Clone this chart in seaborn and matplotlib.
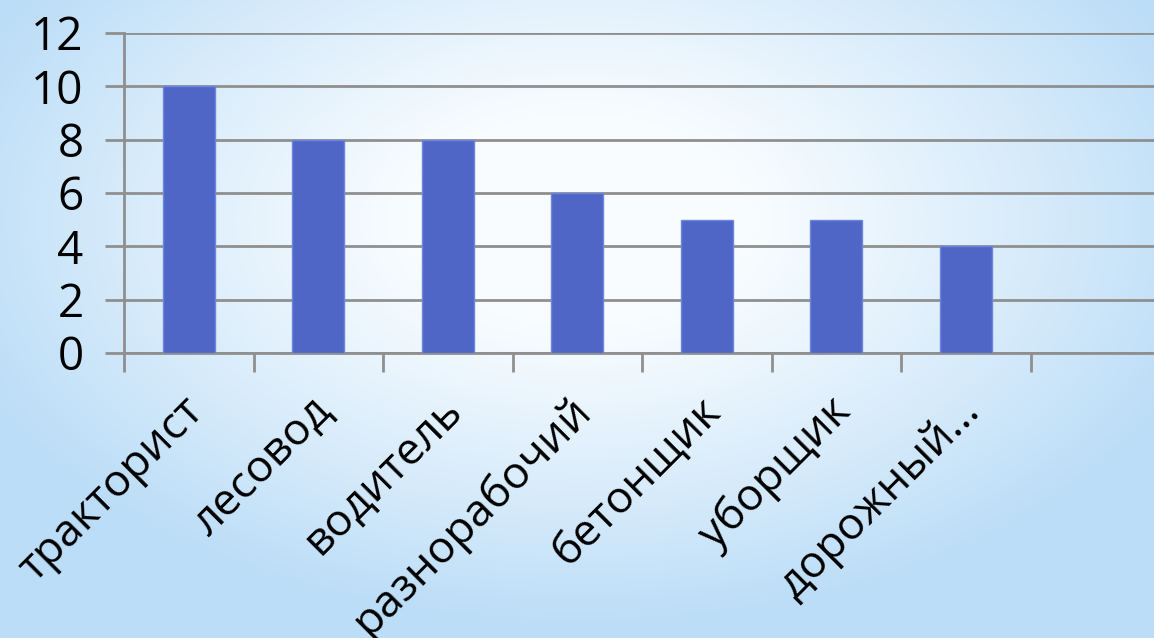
import numpy as np
import pandas as pd
import matplotlib
matplotlib.use("Agg")
import matplotlib.pyplot as plt
import matplotlib.transforms as mtransforms
import seaborn as sns
from matplotlib.ticker import FixedLocator

categories = ["тракторист", "лесовод", "водитель", "разнорабочий",
              "бетонщик", "уборщик", "дорожный..."]
values = [10, 8, 8, 6, 5, 5, 4]
yticks = [0, 2, 4, 6, 8, 10, 12]

sns.set_theme(style="white")
plt.rcParams['font.family'] = ['Open Sans', 'DejaVu Sans']

W, H = 1154, 638
fig = plt.figure(figsize=(W / 100, H / 100), dpi=100)

# background gradient
bg = fig.add_axes([0, 0, 1, 1], zorder=0)
yy, xx = np.mgrid[0:H, 0:W]
d = np.sqrt(((xx - 580) / 650.0) ** 2 + ((yy - 220) / 400.0) ** 2)
t = np.clip((d - 0.25) / 0.75, 0, 1) ** 1.1
white = np.array([0.975, 0.99, 1.0])
blue = np.array([0.74, 0.87, 0.97])
img = white[None, None, :] * (1 - t[..., None]) + blue[None, None, :] * t[..., None]
bg.imshow(img, extent=[0, 1, 0, 1], aspect='auto', origin='upper')
bg.axis('off')

ax = fig.add_axes([124 / W, 1 - 353 / H, (1160 - 124) / W, (353 - 33) / H], zorder=1)
ax.patch.set_alpha(0)

df = pd.DataFrame({"job": categories, "count": values})
sns.barplot(data=df, x="job", y="count", color="#4f66c6", saturation=1,
            width=0.4, ax=ax, zorder=3, edgecolor="#6d85dc", linewidth=1)

ax.set_xlim(-0.5, 7.5)
ax.set_ylim(0, 12)
ax.set_yticks(yticks)
ax.set_yticklabels([str(v) for v in yticks], fontsize=33, color='black')
ax.yaxis.grid(True, color='#8f8f8f', linewidth=2)
ax.set_axisbelow(True)
ax.set_xlabel("")
ax.set_ylabel("")

for s in ['top', 'right']:
    ax.spines[s].set_visible(False)
for s in ['left', 'bottom']:
    ax.spines[s].set_visible(True)
    ax.spines[s].set_color('#8f8f8f')
    ax.spines[s].set_linewidth(2)

ax.tick_params(axis='y', which='major', length=14, width=2, color='#8f8f8f',
               direction='out', left=True, pad=15)
ax.xaxis.set_minor_locator(FixedLocator(np.arange(-0.5, 8.0, 1.0)))
ax.tick_params(axis='x', which='minor', length=14, width=2, color='#8f8f8f',
               direction='out', bottom=True)
ax.tick_params(axis='x', which='major', length=0, pad=26)
ax.set_xticks(range(len(categories)))
ax.set_xticklabels(categories, rotation=45, ha='right', rotation_mode='anchor',
                   fontsize=32, color='black')
offset = mtransforms.ScaledTranslation(-8 / 100, 0, fig.dpi_scale_trans)
for lbl in ax.get_xticklabels():
    lbl.set_transform(lbl.get_transform() + offset)

fig.savefig("out.png", dpi=100)
